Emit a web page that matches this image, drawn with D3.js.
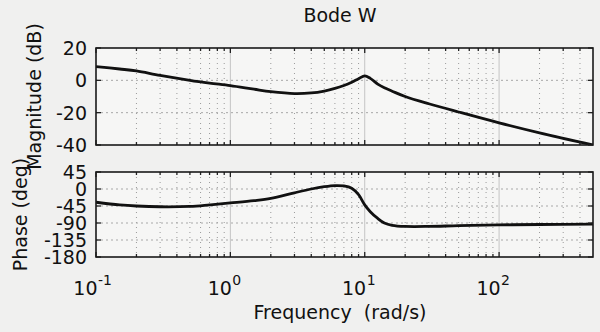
<!DOCTYPE html>
<html>
<head>
<meta charset="utf-8">
<script src="https://cdn.jsdelivr.net/npm/d3@7"></script>
<style>
  body { margin: 0; background: #f0f0ef; }
  text { font-family: "DejaVu Sans", sans-serif; fill: #111; }
</style>
</head>
<body>
<div id="chart"></div>
<script>
// Data
var freq  = [0.1, 0.15, 0.2, 0.3, 0.5, 0.7, 1, 1.5, 2, 3, 4, 5, 6, 7, 8, 9, 10, 11, 12.5, 14, 16, 20, 30, 50, 100, 200, 500];
var magDb = [8.5, 7, 5.8, 3, 0, -1.7, -3.3, -5.5, -7, -8.2, -7.8, -6.6, -5, -3.2, -1.2, 1, 2.7, 1.2, -2.3, -4.6, -6.7, -10, -14.5, -19.6, -26.3, -32.5, -40];
var phaseDeg = [-35, -42, -45, -47, -46, -42, -37, -31, -25, -10, 0, 6, 9, 8, 2, -15, -42, -60, -78, -90, -96, -99, -99, -97, -95, -94, -93];

var magTicks = [20, 0, -20, -40];
var phaseTicks = [45, 0, -45, -90, -135, -180];
var decadeExp = [-1, 0, 1, 2];

var svgWidth = 600;
var svgHeight = 332;

var left = 96, right = 593;
var magTop = 48, magBottom = 145;
var phTop = 172, phBottom = 257;

var svg = d3.select("#chart")
    .append("svg")
    .attr("width", svgWidth)
    .attr("height", svgHeight);

var x = d3.scaleLog().domain([0.1, 500]).range([left, right]);
var yMag = d3.scaleLinear().domain([-40, 20]).range([magBottom, magTop]);
var yPh = d3.scaleLinear().domain([-180, 45]).range([phBottom, phTop]);

// minor + decade positions for grid
var minor = [];
decadeExp.forEach(function(e) {
    for (var k = 2; k <= 9; k++) {
        var v = k * Math.pow(10, e);
        if (v < 500) minor.push(v);
    }
});
var decades = decadeExp.map(e => Math.pow(10, e));

var data = freq.map((f, i) => ({f: f, m: magDb[i], p: phaseDeg[i]}));

function panel(y, top, bottom, ticks, key, clipId) {
    var g = svg.append("g");

    g.append("rect")
        .attr("x", left).attr("y", top)
        .attr("width", right - left).attr("height", bottom - top)
        .attr("fill", "#f6f6f5");

    // grid
    g.selectAll(".vminor").data(minor).enter()
        .append("line")
        .attr("x1", d => x(d)).attr("x2", d => x(d))
        .attr("y1", top).attr("y2", bottom)
        .attr("stroke", "#9a9a9a").attr("stroke-width", 1)
        .attr("stroke-dasharray", "1,4");

    g.selectAll(".vmajor").data(decades.slice(1)).enter()
        .append("line")
        .attr("x1", d => x(d)).attr("x2", d => x(d))
        .attr("y1", top).attr("y2", bottom)
        .attr("stroke", "#c4c4c4").attr("stroke-width", 1);

    g.selectAll(".hgrid").data(ticks.slice(1, -1)).enter()
        .append("line")
        .attr("x1", left).attr("x2", right)
        .attr("y1", d => y(d)).attr("y2", d => y(d))
        .attr("stroke", "#a8a8a8").attr("stroke-width", 1)
        .attr("stroke-dasharray", "2,3");

    // curve
    svg.append("clipPath").attr("id", clipId)
        .append("rect")
        .attr("x", left).attr("y", top - 2)
        .attr("width", right - left).attr("height", bottom - top + 2);

    var line = d3.line()
        .x(d => x(d.f))
        .y(d => y(d[key]))
        .curve(d3.curveCatmullRom.alpha(0.5));

    g.append("path")
        .datum(data)
        .attr("clip-path", "url(#" + clipId + ")")
        .attr("fill", "none")
        .attr("stroke", "#111")
        .attr("stroke-width", 2.8)
        .attr("stroke-linejoin", "round")
        .attr("d", line);

    // ticks (inside), x minor + major on top and bottom
    var tickG = g.append("g").attr("stroke", "#222").attr("stroke-width", 1.3);
    minor.forEach(function(v) {
        tickG.append("line").attr("x1", x(v)).attr("x2", x(v)).attr("y1", top).attr("y2", top + 3);
        tickG.append("line").attr("x1", x(v)).attr("x2", x(v)).attr("y1", bottom).attr("y2", bottom - 3);
    });
    decades.forEach(function(v) {
        tickG.append("line").attr("x1", x(v)).attr("x2", x(v)).attr("y1", top).attr("y2", top + 5);
        tickG.append("line").attr("x1", x(v)).attr("x2", x(v)).attr("y1", bottom).attr("y2", bottom - 5);
    });
    ticks.forEach(function(v) {
        tickG.append("line").attr("x1", left).attr("x2", left + 5).attr("y1", y(v)).attr("y2", y(v));
        tickG.append("line").attr("x1", right).attr("x2", right - 5).attr("y1", y(v)).attr("y2", y(v));
    });

    // frame
    g.append("rect")
        .attr("x", left).attr("y", top)
        .attr("width", right - left).attr("height", bottom - top)
        .attr("fill", "none")
        .attr("stroke", "#1a1a1a")
        .attr("stroke-width", 1.6);

    // y tick labels
    g.selectAll(".ylab").data(ticks).enter()
        .append("text")
        .attr("x", left - 9)
        .attr("y", d => y(d))
        .attr("dy", "0.36em")
        .attr("text-anchor", "end")
        .attr("font-size", 19)
        .text(d => d);
}

panel(yMag, magTop, magBottom, magTicks, "m", "clipMag");
panel(yPh, phTop, phBottom, phaseTicks, "p", "clipPh");

// x tick labels 10^n
decadeExp.forEach(function(e) {
    var px = x(Math.pow(10, e));
    svg.append("text")
        .attr("x", px + 1.5).attr("y", 295)
        .attr("text-anchor", "end")
        .attr("font-size", 19)
        .text("10");
    svg.append("text")
        .attr("x", px + 2).attr("y", 285)
        .attr("text-anchor", "start")
        .attr("font-size", 14)
        .text(e);
});

// title and axis labels
svg.append("text")
    .attr("x", 340).attr("y", 22)
    .attr("text-anchor", "middle")
    .attr("font-size", 19)
    .text("Bode W");

svg.append("text")
    .attr("x", 340).attr("y", 319)
    .attr("text-anchor", "middle")
    .attr("font-size", 19)
    .attr("xml:space", "preserve")
    .style("white-space", "pre")
    .text("Frequency  (rad/s)");

svg.append("text")
    .attr("transform", "translate(41," + (magTop + magBottom) / 2 + ") rotate(-90)")
    .attr("text-anchor", "middle")
    .attr("font-size", 19)
    .text("Magnitude (dB)");

svg.append("text")
    .attr("transform", "translate(27," + (phTop + phBottom) / 2 + ") rotate(-90)")
    .attr("text-anchor", "middle")
    .attr("font-size", 19)
    .text("Phase (deg)");
</script>
</body>
</html>
